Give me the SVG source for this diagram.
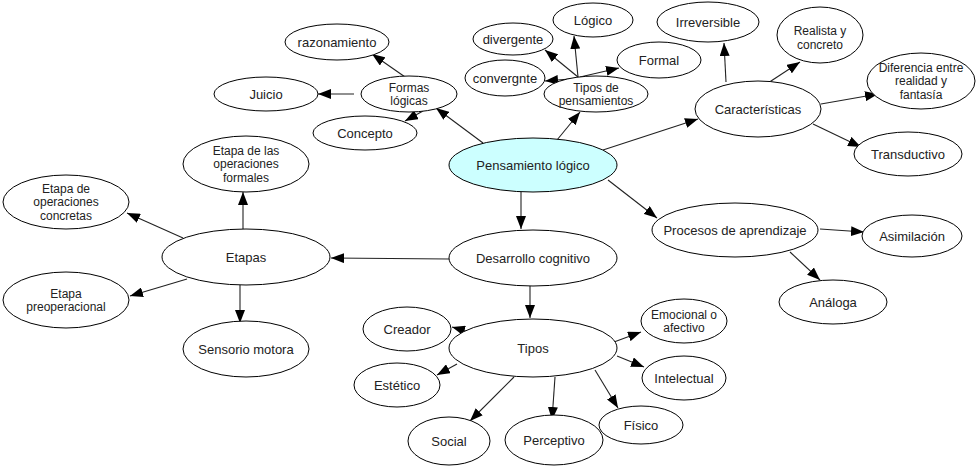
<svg xmlns="http://www.w3.org/2000/svg" width="980" height="469" viewBox="0 0 980 469">
<style>
ellipse{fill:#fff;stroke:#000;stroke-width:1}
#n-pens ellipse{fill:#ccffff}
text{font-family:"Liberation Sans",Arial,sans-serif;font-size:13px;fill:#222;text-anchor:middle}
text.m{font-size:12px}
#edges line{stroke:#222;stroke-width:1.1;marker-end:url(#ah)}
</style>
<defs>
<marker id="ah" markerUnits="userSpaceOnUse" markerWidth="13" markerHeight="10" refX="13" refY="5" orient="auto"><path d="M0,0 L13,5 L0,10 z" fill="#000"/></marker>
</defs>
<g id="edges">
<line x1="521" y1="192" x2="521" y2="229"/>
<line x1="449" y1="259" x2="331" y2="258"/>
<line x1="243" y1="229" x2="243" y2="192"/>
<line x1="183" y1="238" x2="127" y2="213"/>
<line x1="187" y1="279" x2="130" y2="296"/>
<line x1="240" y1="285" x2="240" y2="323"/>
<line x1="483" y1="143" x2="436" y2="108"/>
<line x1="408" y1="79" x2="372" y2="54"/>
<line x1="354" y1="94" x2="318" y2="94"/>
<line x1="423" y1="111" x2="405" y2="121"/>
<line x1="557" y1="140" x2="580" y2="112"/>
<line x1="578" y1="77" x2="574" y2="36"/>
<line x1="578" y1="77" x2="545" y2="50"/>
<line x1="570" y1="79" x2="545" y2="81"/>
<line x1="580" y1="77" x2="619" y2="68"/>
<line x1="603" y1="150" x2="698" y2="119"/>
<line x1="726" y1="82" x2="724" y2="43"/>
<line x1="768" y1="83" x2="800" y2="62"/>
<line x1="821" y1="104" x2="878" y2="94"/>
<line x1="813" y1="124" x2="861" y2="147"/>
<line x1="608" y1="180" x2="657" y2="218"/>
<line x1="820" y1="229" x2="864" y2="232"/>
<line x1="790" y1="252" x2="820" y2="280"/>
<line x1="530" y1="286" x2="530" y2="318"/>
<line x1="469" y1="332" x2="452" y2="327"/>
<line x1="457" y1="364" x2="437" y2="375"/>
<line x1="514" y1="377" x2="470" y2="421"/>
<line x1="555" y1="377" x2="552" y2="420"/>
<line x1="595" y1="370" x2="618" y2="408"/>
<line x1="617" y1="356" x2="644" y2="367"/>
<line x1="614" y1="342" x2="641" y2="332"/>
</g>
<g id="n-pens"><ellipse cx="533" cy="165" rx="84" ry="27"/><text x="533" y="169.5">Pensamiento lógico</text></g>
<g id="n-desarrollo"><ellipse cx="533" cy="258" rx="84" ry="28"/><text x="533" y="262.5">Desarrollo cognitivo</text></g>
<g id="n-etapas"><ellipse cx="246" cy="257" rx="84" ry="28"/><text x="246" y="261.5">Etapas</text></g>
<g id="n-formales"><ellipse cx="246" cy="164" rx="63" ry="28"/><text class="m" x="246" y="154.7">Etapa de las</text><text class="m" x="246" y="168.2">operaciones</text><text class="m" x="246" y="181.7">formales</text></g>
<g id="n-concretas"><ellipse cx="66" cy="202" rx="63" ry="27"/><text class="m" x="66" y="192.7">Etapa de</text><text class="m" x="66" y="206.2">operaciones</text><text class="m" x="66" y="219.7">concretas</text></g>
<g id="n-preop"><ellipse cx="66" cy="300" rx="63" ry="28"/><text class="m" x="66" y="297.5">Etapa</text><text class="m" x="66" y="311">preoperacional</text></g>
<g id="n-sensorio"><ellipse cx="246" cy="349" rx="63" ry="28"/><text x="246" y="353.5">Sensorio motora</text></g>
<g id="n-razon"><ellipse cx="337" cy="42" rx="52" ry="18"/><text x="337" y="46.5">razonamiento</text></g>
<g id="n-juicio"><ellipse cx="266" cy="94" rx="52" ry="17"/><text x="266" y="98.5">Juicio</text></g>
<g id="n-formas"><ellipse cx="409" cy="94" rx="48" ry="18"/><text class="m" x="409" y="91.5">Formas</text><text class="m" x="409" y="105">lógicas</text></g>
<g id="n-concepto"><ellipse cx="365" cy="133" rx="52" ry="17"/><text x="365" y="137.5">Concepto</text></g>
<g id="n-logico"><ellipse cx="593" cy="20" rx="40" ry="17"/><text x="593" y="24.5">Lógico</text></g>
<g id="n-divergente"><ellipse cx="513" cy="39" rx="40" ry="16"/><text x="513" y="43.5">divergente</text></g>
<g id="n-convergnte"><ellipse cx="505" cy="78" rx="40" ry="18"/><text x="505" y="82.5">convergnte</text></g>
<g id="n-formal"><ellipse cx="659" cy="60" rx="42" ry="18"/><text x="659" y="64.5">Formal</text></g>
<g id="n-tipospens"><ellipse cx="596" cy="94" rx="52" ry="18"/><text class="m" x="596" y="91.5">Tipos de</text><text class="m" x="596" y="105">pensamientos</text></g>
<g id="n-irrev"><ellipse cx="708" cy="22" rx="51" ry="20"/><text x="708" y="26.5">Irreversible</text></g>
<g id="n-realista"><ellipse cx="820" cy="35" rx="43" ry="28"/><text class="m" x="820" y="35">Realista y</text><text class="m" x="820" y="48.5">concreto</text></g>
<g id="n-diferencia"><ellipse cx="921" cy="81" rx="54" ry="28"/><text class="m" x="921" y="71.7">Diferencia entre</text><text class="m" x="921" y="85.2">realidad y</text><text class="m" x="921" y="98.7">fantasía</text></g>
<g id="n-caract"><ellipse cx="758" cy="109" rx="63" ry="28"/><text x="758" y="113.5">Características</text></g>
<g id="n-transd"><ellipse cx="908" cy="154" rx="54" ry="22"/><text x="908" y="158.5">Transductivo</text></g>
<g id="n-procesos"><ellipse cx="735" cy="230" rx="83" ry="27"/><text x="735" y="234.5">Procesos de aprendizaje</text></g>
<g id="n-asim"><ellipse cx="912" cy="236" rx="50" ry="21"/><text x="912" y="240.5">Asimilación</text></g>
<g id="n-analoga"><ellipse cx="833" cy="302" rx="54" ry="22"/><text x="833" y="306.5">Análoga</text></g>
<g id="n-tipos"><ellipse cx="533" cy="348" rx="84" ry="29"/><text x="533" y="352.5">Tipos</text></g>
<g id="n-creador"><ellipse cx="407" cy="329" rx="44" ry="22"/><text x="407" y="333.5">Creador</text></g>
<g id="n-estetico"><ellipse cx="397" cy="385" rx="43" ry="22"/><text x="397" y="389.5">Estético</text></g>
<g id="n-social"><ellipse cx="449" cy="441" rx="41" ry="24"/><text x="449" y="445.5">Social</text></g>
<g id="n-percep"><ellipse cx="554" cy="440" rx="49" ry="25"/><text x="554" y="444.5">Perceptivo</text></g>
<g id="n-fisico"><ellipse cx="641" cy="425" rx="42" ry="19"/><text x="641" y="429.5">Físico</text></g>
<g id="n-intel"><ellipse cx="684" cy="378" rx="42" ry="22"/><text x="684" y="382.5">Intelectual</text></g>
<g id="n-emoc"><ellipse cx="684" cy="321" rx="43" ry="22"/><text class="m" x="684" y="318.5">Emocional o</text><text class="m" x="684" y="332">afectivo</text></g>
</svg>
